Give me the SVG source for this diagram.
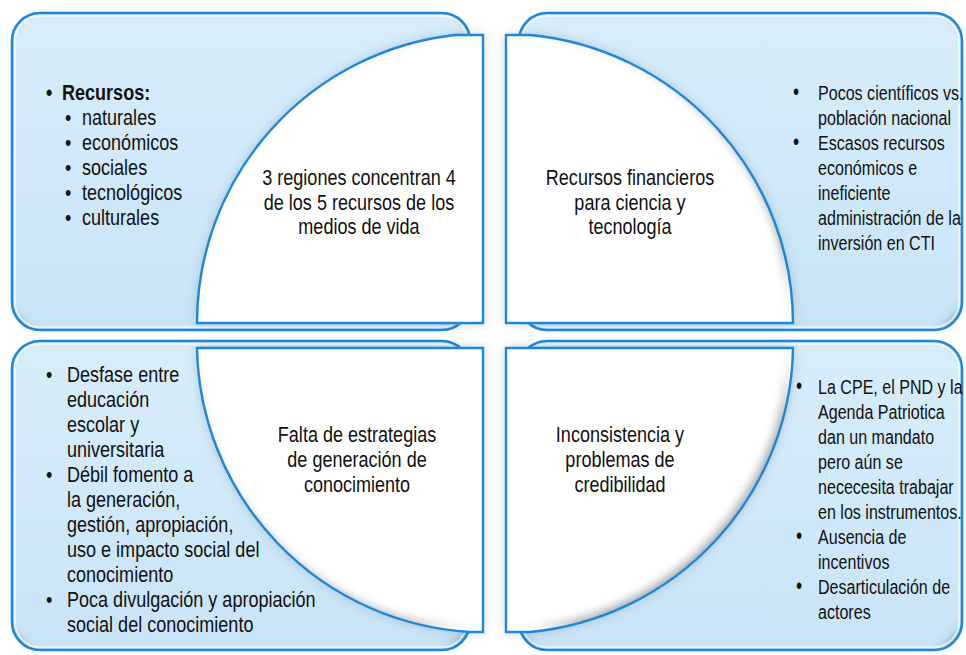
<svg xmlns="http://www.w3.org/2000/svg" width="966" height="655" viewBox="0 0 966 655">
  <style>
    .box { fill: url(#blueFill); filter: url(#insetBlue); }
    .boxLine { fill: none; stroke: #1f86d8; stroke-width: 2.6; }
    .boxHi { fill: none; stroke: #ffffff; stroke-opacity: 0.75; stroke-width: 1.5; }
    .wfill { fill: #ffffff; filter: url(#insetWhite); }
    .wline { fill: none; stroke: #1f86d8; stroke-width: 2.4; }
    .wshade { fill: #4d6f8c; opacity: 0.35; filter: url(#soft); }
    text { font-family: "Liberation Sans", Arial, sans-serif; fill: #111111; }
    .ta text { font-size: 22px; }
    .tb text { font-size: 21px; }
    .tb text.bu { font-size: 23px; }
    .c { text-anchor: middle; }
    .b { font-weight: bold; }
  </style>
  <defs>
    <linearGradient id="blueFill" x1="0" y1="0" x2="0" y2="1">
      <stop offset="0" stop-color="#d8edfb"/>
      <stop offset="1" stop-color="#c9e4f7"/>
    </linearGradient>
    <filter id="soft" x="-10%" y="-10%" width="120%" height="120%">
      <feGaussianBlur stdDeviation="6"/>
    </filter>
    <filter id="insetBlue" x="0" y="0" width="100%" height="100%">
      <feFlood flood-color="#7f9fb8" result="c"/>
      <feComposite in="c" in2="SourceAlpha" operator="out" result="inv"/>
      <feGaussianBlur in="inv" stdDeviation="4" result="bl"/>
      <feOffset in="bl" dx="-2" dy="-4" result="off"/>
      <feComposite in="off" in2="SourceAlpha" operator="in" result="inner"/>
      <feMerge><feMergeNode in="SourceGraphic"/><feMergeNode in="inner"/></feMerge>
    </filter>
    <filter id="insetWhite" x="0" y="0" width="100%" height="100%">
      <feFlood flood-color="#a3a9ae" result="c"/>
      <feComposite in="c" in2="SourceAlpha" operator="out" result="inv"/>
      <feGaussianBlur in="inv" stdDeviation="5" result="bl"/>
      <feOffset in="bl" dx="-4" dy="-4" result="off"/>
      <feComposite in="off" in2="SourceAlpha" operator="in" result="inner"/>
      <feMerge><feMergeNode in="SourceGraphic"/><feMergeNode in="inner"/></feMerge>
    </filter>
  </defs>

  <rect width="966" height="655" fill="#ffffff"/>

  <!-- Top-left quadrant -->
  <g id="node-tl">
    <rect class="box" x="12" y="13" width="458" height="317" rx="28"/>
    <rect class="boxHi" x="15" y="16" width="452" height="311" rx="25"/>
    <rect class="boxLine" x="12" y="13" width="458" height="317" rx="28"/>
    <path class="wshade" d="M483,35 L483,323 L197,323 A290,290 0 0 1 455,35 Z"/>
    <path class="wfill" d="M483,35 L483,323 L197,323 A290,290 0 0 1 455,35 Z"/>
    <path class="wline" d="M483,35 L483,323 L197,323 A290,290 0 0 1 455,35 Z"/>
    <g class="ta" transform="scale(0.82,1)">
      <text x="56.1" y="100" class="b">•</text>
      <text x="75.6" y="100" class="b">Recursos:</text>
      <text x="79.3" y="125">•</text><text x="100" y="125">naturales</text>
      <text x="79.3" y="150">•</text><text x="100" y="150">económicos</text>
      <text x="79.3" y="175">•</text><text x="100" y="175">sociales</text>
      <text x="79.3" y="200">•</text><text x="100" y="200">tecnológicos</text>
      <text x="79.3" y="225">•</text><text x="100" y="225">culturales</text>
      <text x="437.8" y="185" class="c">3 regiones concentran 4</text>
      <text x="437.8" y="210" class="c">de los 5 recursos de los</text>
      <text x="437.8" y="234" class="c">medios de vida</text>
    </g>
  </g>

  <!-- Top-right quadrant -->
  <g id="node-tr">
    <rect class="box" x="519" y="13" width="443" height="317" rx="28"/>
    <rect class="boxHi" x="522" y="16" width="437" height="311" rx="25"/>
    <rect class="boxLine" x="519" y="13" width="443" height="317" rx="28"/>
    <path class="wshade" d="M506,35 L530,35 A290,290 0 0 1 793,323 L506,323 Z"/>
    <path class="wfill" d="M506,35 L530,35 A290,290 0 0 1 793,323 L506,323 Z"/>
    <path class="wline" d="M506,35 L530,35 A290,290 0 0 1 793,323 L506,323 Z"/>
    <g class="ta" transform="scale(0.82,1)">
      <text x="768.3" y="185" class="c">Recursos financieros</text>
      <text x="768.3" y="210" class="c">para ciencia y</text>
      <text x="768.3" y="234" class="c">tecnología</text>
    </g>
    <g class="tb" transform="scale(0.765,1)">
      <text x="1036.6" y="100" class="bu">•</text><text x="1069.3" y="100">Pocos científicos vs.</text>
      <text x="1069.3" y="125">población nacional</text>
      <text x="1036.6" y="150" class="bu">•</text><text x="1069.3" y="150">Escasos recursos</text>
      <text x="1069.3" y="175">económicos e</text>
      <text x="1069.3" y="200">ineficiente</text>
      <text x="1069.3" y="225">administración de la</text>
      <text x="1069.3" y="250">inversión en CTI</text>
    </g>
  </g>

  <!-- Bottom-left quadrant -->
  <g id="node-bl">
    <rect class="box" x="12" y="341" width="458" height="309" rx="28"/>
    <rect class="boxHi" x="15" y="344" width="452" height="303" rx="25"/>
    <rect class="boxLine" x="12" y="341" width="458" height="309" rx="28"/>
    <path class="wshade" d="M197,348 L483,348 L483,632 L470,632 A290,290 0 0 1 197,348 Z"/>
    <path class="wfill" d="M197,348 L483,348 L483,632 L470,632 A290,290 0 0 1 197,348 Z"/>
    <path class="wline" d="M197,348 L483,348 L483,632 L470,632 A290,290 0 0 1 197,348 Z"/>
    <g class="ta" transform="scale(0.82,1)">
      <text x="435.4" y="442" class="c">Falta de estrategias</text>
      <text x="435.4" y="467" class="c">de generación de</text>
      <text x="435.4" y="492" class="c">conocimiento</text>
      <text x="56.1" y="382">•</text><text x="81.7" y="382">Desfase entre</text>
      <text x="81.7" y="407">educación</text>
      <text x="81.7" y="432">escolar y</text>
      <text x="81.7" y="457">universitaria</text>
      <text x="56.1" y="482">•</text><text x="81.7" y="482">Débil fomento a</text>
      <text x="81.7" y="507">la generación,</text>
      <text x="81.7" y="532">gestión, apropiación,</text>
      <text x="81.7" y="557">uso e impacto social del</text>
      <text x="81.7" y="582">conocimiento</text>
      <text x="56.1" y="607">•</text><text x="81.7" y="607">Poca divulgación y apropiación</text>
      <text x="81.7" y="632">social del conocimiento</text>
    </g>
  </g>

  <!-- Bottom-right quadrant -->
  <g id="node-br">
    <rect class="box" x="519" y="341" width="443" height="309" rx="28"/>
    <rect class="boxHi" x="522" y="344" width="437" height="303" rx="25"/>
    <rect class="boxLine" x="519" y="341" width="443" height="309" rx="28"/>
    <path class="wshade" d="M506,348 L793,348 A290,290 0 0 1 530,632 L506,632 Z"/>
    <path class="wfill" d="M506,348 L793,348 A290,290 0 0 1 530,632 L506,632 Z"/>
    <path class="wline" d="M506,348 L793,348 A290,290 0 0 1 530,632 L506,632 Z"/>
    <g class="ta" transform="scale(0.82,1)">
      <text x="756.1" y="442" class="c">Inconsistencia y</text>
      <text x="756.1" y="467" class="c">problemas de</text>
      <text x="756.1" y="492" class="c">credibilidad</text>
    </g>
    <g class="tb" transform="scale(0.765,1)">
      <text x="1040.5" y="394" class="bu">•</text><text x="1069.3" y="394">La CPE, el PND y la</text>
      <text x="1069.3" y="419">Agenda Patriotica</text>
      <text x="1069.3" y="444">dan un mandato</text>
      <text x="1069.3" y="469">pero aún se</text>
      <text x="1069.3" y="494">nececesita trabajar</text>
      <text x="1069.3" y="519">en los instrumentos.</text>
      <text x="1040.5" y="544" class="bu">•</text><text x="1069.3" y="544">Ausencia de</text>
      <text x="1069.3" y="569">incentivos</text>
      <text x="1040.5" y="594" class="bu">•</text><text x="1069.3" y="594">Desarticulación de</text>
      <text x="1069.3" y="619">actores</text>
    </g>
  </g>

  <g id="connectors"/>
</svg>
